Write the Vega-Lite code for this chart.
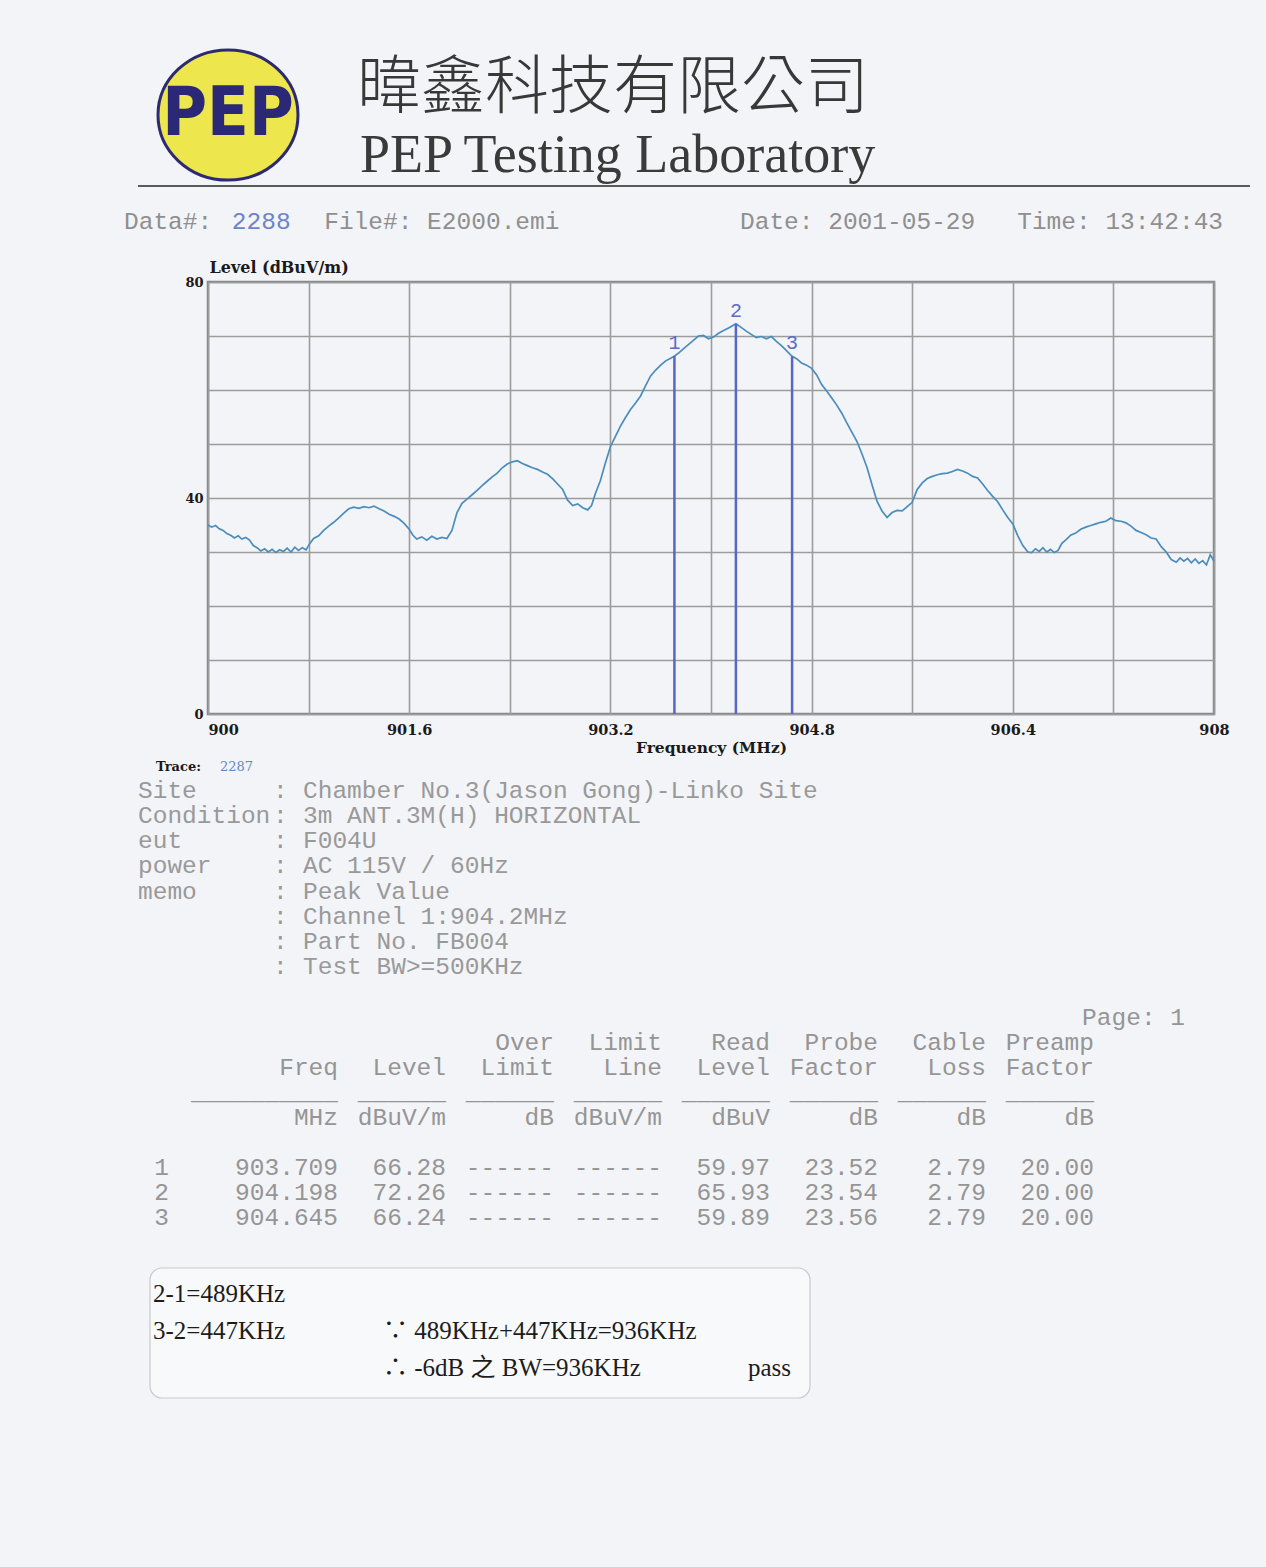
{
"$schema": "https://vega.github.io/schema/vega-lite/v6.json",
"width": 1006, "height": 432,
"autosize": {"type": "none"},
"padding": {"left": 208, "top": 282, "right": 52, "bottom": 853},
"background": "#f3f4f7",
"config": {"view": {"stroke": "#858585", "strokeWidth": 2.5}},
"datasets": {
 "trace": [
{"freq":900.00,"level":35.0},{"freq":900.03,"level":34.6},{"freq":900.06,"level":34.9},{"freq":900.09,"level":34.3},{"freq":900.12,"level":34.0},{"freq":900.15,"level":33.4},{"freq":900.18,"level":33.1},{"freq":900.21,"level":32.6},{"freq":900.24,"level":33.0},{"freq":900.27,"level":32.4},{"freq":900.30,"level":32.7},{"freq":900.33,"level":32.2},{"freq":900.36,"level":31.2},{"freq":900.39,"level":30.8},{"freq":900.42,"level":30.2},{"freq":900.45,"level":30.6},{"freq":900.48,"level":30.0},{"freq":900.51,"level":30.5},{"freq":900.54,"level":29.9},{"freq":900.57,"level":30.4},{"freq":900.60,"level":30.1},{"freq":900.63,"level":30.7},{"freq":900.66,"level":30.0},{"freq":900.69,"level":30.9},{"freq":900.72,"level":30.3},{"freq":900.75,"level":30.8},{"freq":900.78,"level":30.4},{"freq":900.81,"level":31.6},{"freq":900.84,"level":32.5},{"freq":900.88,"level":33.0},{"freq":900.92,"level":34.0},{"freq":900.96,"level":34.8},{"freq":901.00,"level":35.5},{"freq":901.04,"level":36.3},{"freq":901.08,"level":37.2},{"freq":901.12,"level":38.0},{"freq":901.16,"level":38.3},{"freq":901.20,"level":38.1},{"freq":901.24,"level":38.4},{"freq":901.28,"level":38.2},{"freq":901.32,"level":38.5},{"freq":901.36,"level":38.0},{"freq":901.40,"level":37.6},{"freq":901.44,"level":37.0},{"freq":901.48,"level":36.6},{"freq":901.52,"level":36.1},{"freq":901.56,"level":35.3},{"freq":901.60,"level":34.2},{"freq":901.63,"level":33.1},{"freq":901.66,"level":32.4},{"freq":901.70,"level":32.8},{"freq":901.74,"level":32.2},{"freq":901.78,"level":32.9},{"freq":901.82,"level":32.4},{"freq":901.86,"level":32.7},{"freq":901.90,"level":32.5},{"freq":901.94,"level":34.0},{"freq":901.98,"level":37.3},{"freq":902.02,"level":39.0},{"freq":902.06,"level":39.8},{"freq":902.10,"level":40.6},{"freq":902.14,"level":41.4},{"freq":902.18,"level":42.3},{"freq":902.22,"level":43.1},{"freq":902.26,"level":43.9},{"freq":902.30,"level":44.6},{"freq":902.34,"level":45.6},{"freq":902.38,"level":46.3},{"freq":902.42,"level":46.7},{"freq":902.46,"level":46.9},{"freq":902.50,"level":46.4},{"freq":902.54,"level":46.0},{"freq":902.58,"level":45.6},{"freq":902.62,"level":45.3},{"freq":902.66,"level":44.8},{"freq":902.70,"level":44.4},{"freq":902.74,"level":43.6},{"freq":902.78,"level":42.6},{"freq":902.82,"level":41.6},{"freq":902.86,"level":39.6},{"freq":902.90,"level":38.6},{"freq":902.94,"level":38.9},{"freq":902.98,"level":38.2},{"freq":903.02,"level":37.8},{"freq":903.05,"level":38.6},{"freq":903.08,"level":40.8},{"freq":903.12,"level":43.2},{"freq":903.16,"level":46.5},{"freq":903.20,"level":49.5},{"freq":903.24,"level":51.4},{"freq":903.28,"level":53.3},{"freq":903.32,"level":54.9},{"freq":903.36,"level":56.4},{"freq":903.40,"level":57.6},{"freq":903.44,"level":58.9},{"freq":903.48,"level":60.8},{"freq":903.52,"level":62.6},{"freq":903.56,"level":63.7},{"freq":903.60,"level":64.6},{"freq":903.64,"level":65.4},{"freq":903.68,"level":65.9},{"freq":903.709,"level":66.28},{"freq":903.74,"level":66.8},{"freq":903.78,"level":67.6},{"freq":903.82,"level":68.4},{"freq":903.86,"level":69.2},{"freq":903.90,"level":70.0},{"freq":903.94,"level":70.1},{"freq":903.98,"level":69.5},{"freq":904.02,"level":69.8},{"freq":904.06,"level":70.5},{"freq":904.10,"level":71.0},{"freq":904.14,"level":71.5},{"freq":904.198,"level":72.26},{"freq":904.24,"level":71.6},{"freq":904.28,"level":70.9},{"freq":904.32,"level":70.3},{"freq":904.36,"level":69.7},{"freq":904.40,"level":69.9},{"freq":904.44,"level":69.5},{"freq":904.48,"level":69.9},{"freq":904.52,"level":69.0},{"freq":904.56,"level":68.2},{"freq":904.60,"level":67.3},{"freq":904.645,"level":66.24},{"freq":904.68,"level":65.8},{"freq":904.72,"level":65.0},{"freq":904.76,"level":64.6},{"freq":904.80,"level":64.0},{"freq":904.84,"level":62.8},{"freq":904.88,"level":61.0},{"freq":904.92,"level":59.8},{"freq":904.96,"level":58.5},{"freq":905.00,"level":57.2},{"freq":905.04,"level":55.7},{"freq":905.08,"level":53.9},{"freq":905.12,"level":52.2},{"freq":905.16,"level":50.5},{"freq":905.20,"level":48.2},{"freq":905.24,"level":45.7},{"freq":905.28,"level":42.5},{"freq":905.32,"level":39.4},{"freq":905.36,"level":37.6},{"freq":905.40,"level":36.4},{"freq":905.44,"level":37.3},{"freq":905.48,"level":37.7},{"freq":905.52,"level":37.6},{"freq":905.56,"level":38.4},{"freq":905.60,"level":39.2},{"freq":905.64,"level":41.6},{"freq":905.68,"level":42.8},{"freq":905.72,"level":43.6},{"freq":905.76,"level":44.0},{"freq":905.80,"level":44.3},{"freq":905.84,"level":44.5},{"freq":905.88,"level":44.6},{"freq":905.92,"level":44.9},{"freq":905.96,"level":45.3},{"freq":906.00,"level":45.0},{"freq":906.04,"level":44.6},{"freq":906.08,"level":44.0},{"freq":906.12,"level":43.7},{"freq":906.16,"level":42.6},{"freq":906.20,"level":41.4},{"freq":906.24,"level":40.3},{"freq":906.28,"level":39.3},{"freq":906.32,"level":37.8},{"freq":906.36,"level":36.4},{"freq":906.40,"level":35.2},{"freq":906.44,"level":33.0},{"freq":906.48,"level":31.2},{"freq":906.52,"level":30.0},{"freq":906.55,"level":29.9},{"freq":906.58,"level":30.6},{"freq":906.61,"level":30.1},{"freq":906.64,"level":30.8},{"freq":906.67,"level":30.0},{"freq":906.70,"level":30.5},{"freq":906.73,"level":29.9},{"freq":906.76,"level":30.3},{"freq":906.79,"level":31.6},{"freq":906.82,"level":32.2},{"freq":906.86,"level":33.1},{"freq":906.90,"level":33.5},{"freq":906.94,"level":34.2},{"freq":906.98,"level":34.6},{"freq":907.02,"level":34.9},{"freq":907.06,"level":35.2},{"freq":907.10,"level":35.5},{"freq":907.14,"level":35.7},{"freq":907.18,"level":36.3},{"freq":907.22,"level":35.8},{"freq":907.26,"level":35.7},{"freq":907.30,"level":35.4},{"freq":907.34,"level":34.8},{"freq":907.38,"level":34.0},{"freq":907.42,"level":33.6},{"freq":907.46,"level":33.2},{"freq":907.50,"level":32.6},{"freq":907.54,"level":32.4},{"freq":907.58,"level":31.0},{"freq":907.62,"level":30.0},{"freq":907.66,"level":28.6},{"freq":907.70,"level":28.1},{"freq":907.73,"level":28.9},{"freq":907.76,"level":28.3},{"freq":907.79,"level":28.8},{"freq":907.82,"level":28.0},{"freq":907.85,"level":28.7},{"freq":907.88,"level":27.9},{"freq":907.91,"level":28.4},{"freq":907.94,"level":27.6},{"freq":907.97,"level":29.5},{"freq":908.00,"level":28.3}
 ],
 "markers": [
  {"no":"1","freq":903.709,"level":66.28,"read":59.97,"probe":23.52,"cable":2.79,"preamp":20.00},
  {"no":"2","freq":904.198,"level":72.26,"read":65.93,"probe":23.54,"cable":2.79,"preamp":20.00},
  {"no":"3","freq":904.645,"level":66.24,"read":59.89,"probe":23.56,"cable":2.79,"preamp":20.00}
 ],
 "memo": [
  {"row":1,"key":"Site","value":"Chamber No.3(Jason Gong)-Linko Site"},
  {"row":2,"key":"Condition","value":"3m ANT.3M(H) HORIZONTAL"},
  {"row":3,"key":"eut","value":"F004U"},
  {"row":4,"key":"power","value":"AC 115V / 60Hz"},
  {"row":5,"key":"memo","value":"Peak Value"},
  {"row":6,"key":"","value":"Channel 1:904.2MHz"},
  {"row":7,"key":"","value":"Part No. FB004"},
  {"row":8,"key":"","value":"Test BW>=500KHz"}
 ],
 "columns": [
  {"col":"freq","h1":"","h2":"Freq","unit":"MHz"},
  {"col":"level","h1":"","h2":"Level","unit":"dBuV/m"},
  {"col":"over","h1":"Over","h2":"Limit","unit":"dB"},
  {"col":"limit","h1":"Limit","h2":"Line","unit":"dBuV/m"},
  {"col":"read","h1":"Read","h2":"Level","unit":"dBuV"},
  {"col":"probe","h1":"Probe","h2":"Factor","unit":"dB"},
  {"col":"cable","h1":"Cable","h2":"Loss","unit":"dB"},
  {"col":"preamp","h1":"Preamp","h2":"Factor","unit":"dB"}
 ],
 "header": [
  {"col":0,"text":"Data#:","kind":"label"},
  {"col":7,"text":"2288","kind":"number"},
  {"col":13,"text":"File#: E2000.emi","kind":"label"},
  {"col":40,"text":"Date: 2001-05-29","kind":"label"},
  {"col":58,"text":"Time: 13:42:43","kind":"label"}
 ],
 "bandwidth": [
  {"line":"a","left":"2-1=489KHz","right":"","verdict":""},
  {"line":"b","left":"3-2=447KHz","right":"∵ 489KHz+447KHz=936KHz","verdict":""},
  {"line":"c","left":"","right":"∴ -6dB 之 BW=936KHz","verdict":"pass"}
 ]
},
"resolve": {"scale": {"x": "independent", "y": "independent", "color": "independent"}},
"layer": [
 {"data": {"name": "trace"},
  "layer": [
   {"mark": {"type": "line", "color": "#4a8dbd", "strokeWidth": 1.7},
    "encoding": {
     "x": {"field": "freq", "type": "quantitative", "scale": {"domain": [900, 908], "nice": false, "zero": false},
      "axis": {"values": [900, 900.8, 901.6, 902.4, 903.2, 904, 904.8, 905.6, 906.4, 907.2, 908], "grid": true, "gridColor": "#9c9c9c", "gridWidth": 1.6, "domain": false, "ticks": false,
       "labelExpr": "round(datum.value*10) % 16 == 8 ? format(datum.value, '.1~f') : ''", "labelOverlap": false, "labelFlush": false, "labelBound": false,
       "labelFont": "DejaVu Serif", "labelFontWeight": "bold", "labelFontSize": 14.5, "labelColor": "#1a1a1a", "labelPadding": 9,
       "labelAlign": {"condition": {"test": "datum.value < 900.5", "value": "left"}, "value": "center"},
       "title": "Frequency (MHz)", "titleFont": "DejaVu Serif", "titleFontWeight": "bold", "titleFontSize": 15.5, "titleColor": "#1a1a1a", "titlePadding": 4}},
     "y": {"field": "level", "type": "quantitative", "scale": {"domain": [0, 80], "nice": false},
      "axis": {"values": [0, 10, 20, 30, 40, 50, 60, 70, 80], "grid": true, "gridColor": "#9c9c9c", "gridWidth": 1.6, "domain": false, "ticks": false,
       "labelExpr": "datum.value % 40 == 0 ? datum.label : ''", "labelOverlap": false,
       "labelFont": "DejaVu Serif", "labelFontWeight": "bold", "labelFontSize": 13, "labelColor": "#1a1a1a", "labelPadding": 5,
       "title": "Level (dBuV/m)", "titleAngle": 0, "titleAlign": "left", "titleBaseline": "middle", "titleX": 1, "titleY": -15,
       "titleFont": "DejaVu Serif", "titleFontWeight": "bold", "titleFontSize": 16, "titleColor": "#1a1a1a"}}
    }},
   {"data": {"name": "markers"}, "mark": {"type": "rule", "color": "#5667c6", "strokeWidth": 2.5},
    "encoding": {"x": {"field": "freq", "type": "quantitative"}, "y": {"field": "level", "type": "quantitative"}, "y2": {"datum": 0}}},
   {"data": {"name": "markers"}, "mark": {"type": "text", "font": "Liberation Mono", "fontSize": 20, "color": "#5a6cc4", "dy": -13, "baseline": "middle"},
    "encoding": {"x": {"field": "freq", "type": "quantitative"}, "y": {"field": "level", "type": "quantitative"}, "text": {"field": "no"}}}
  ]},
 {"data": {"values": [{"logo": "PEP"}]},
  "encoding": {
   "x": {"datum": 0, "type": "quantitative", "scale": {"domain": [0, 1], "range": [20, 21]}, "axis": null},
   "y": {"datum": 0, "type": "quantitative", "scale": {"domain": [0, 1], "range": [-167, -166]}, "axis": null}},
  "layer": [
   {"mark": {"type": "point", "shape": "M -1 0 A 1 0.93 0 1 0 1 0 A 1 0.93 0 1 0 -1 0 Z", "size": 19600, "filled": true, "fill": "#ede64c", "stroke": "#2d2a72", "strokeWidth": 3, "opacity": 1}},
   {"mark": {"type": "text", "font": "DejaVu Sans Condensed", "fontWeight": "bold", "fontSize": 68, "color": "#2b2878", "align": "center", "baseline": "middle"},
    "encoding": {"text": {"field": "logo"}}}
  ]},
 {"data": {"values": [{}]},
  "mark": {"type": "text", "text": "暐鑫科技有限公司", "font": "Noto Sans CJK TC", "fontWeight": 300, "fontSize": 64, "color": "#383838", "align": "left", "baseline": "middle"},
  "encoding": {
   "x": {"datum": 0, "type": "quantitative", "scale": {"domain": [0, 1], "range": [149, 150]}, "axis": null},
   "y": {"datum": 0, "type": "quantitative", "scale": {"domain": [0, 1], "range": [-193, -192]}, "axis": null}}},
 {"data": {"values": [{}]},
  "mark": {"type": "text", "text": "PEP Testing Laboratory", "font": "Liberation Serif", "fontSize": 54, "color": "#3a3a3a", "align": "left", "baseline": "alphabetic"},
  "encoding": {
   "x": {"datum": 0, "type": "quantitative", "scale": {"domain": [0, 1], "range": [152, 153]}, "axis": null},
   "y": {"datum": 0, "type": "quantitative", "scale": {"domain": [0, 1], "range": [-110, -109]}, "axis": null}}},
 {"data": {"values": [{}]},
  "mark": {"type": "rule", "color": "#5a5a5a", "strokeWidth": 2},
  "encoding": {
   "x": {"datum": 0, "type": "quantitative", "scale": {"domain": [0, 1], "range": [-70, 1042]}, "axis": null},
   "x2": {"datum": 1},
   "y": {"datum": 0, "type": "quantitative", "scale": {"domain": [0, 1], "range": [-96, -95]}, "axis": null}}},
 {"data": {"name": "header"},
  "mark": {"type": "text", "font": "Liberation Mono", "fontSize": 24.5, "align": "left", "baseline": "middle"},
  "encoding": {
   "x": {"field": "col", "type": "quantitative", "scale": {"domain": [0, 72], "range": [-84, 1024.8]}, "axis": null},
   "y": {"datum": 0, "type": "quantitative", "scale": {"domain": [0, 1], "range": [-60, -59]}, "axis": null},
   "text": {"field": "text"},
   "color": {"field": "kind", "type": "nominal", "scale": {"domain": ["label", "number"], "range": ["#8f8f8f", "#6d84c9"]}, "legend": null}}},
 {"data": {"values": [{}]},
  "encoding": {
   "y": {"datum": 0, "type": "quantitative", "scale": {"domain": [0, 1], "range": [485, 486]}, "axis": null}},
  "layer": [
   {"mark": {"type": "text", "text": "Trace:", "font": "DejaVu Serif", "fontWeight": "bold", "fontSize": 13, "color": "#1a1a1a", "align": "left", "baseline": "middle"},
    "encoding": {"x": {"datum": 0, "type": "quantitative", "scale": {"domain": [0, 1], "range": [-52, 12]}, "axis": null}}},
   {"mark": {"type": "text", "text": "2287", "font": "DejaVu Serif", "fontSize": 13, "color": "#5f87cc", "align": "left", "baseline": "middle"},
    "encoding": {"x": {"datum": 1, "type": "quantitative", "scale": {"domain": [0, 1], "range": [-52, 12]}, "axis": null}}}
  ]},
 {"data": {"name": "memo"},
  "encoding": {
   "y": {"field": "row", "type": "ordinal", "scale": {"type": "point", "domain": [1, 2, 3, 4, 5, 6, 7, 8], "range": [509, 685], "padding": 0}, "axis": null}},
  "layer": [
   {"mark": {"type": "text", "font": "Liberation Mono", "fontSize": 24.5, "color": "#999999", "align": "left", "baseline": "middle"},
    "encoding": {"x": {"datum": 0, "type": "quantitative", "scale": {"domain": [0, 11], "range": [-70, 95]}, "axis": null}, "text": {"field": "key"}}},
   {"mark": {"type": "text", "text": ":", "font": "Liberation Mono", "fontSize": 24.5, "color": "#999999", "align": "left", "baseline": "middle"},
    "encoding": {"x": {"datum": 9, "type": "quantitative", "scale": {"domain": [0, 11], "range": [-70, 95]}, "axis": null}}},
   {"mark": {"type": "text", "font": "Liberation Mono", "fontSize": 24.5, "color": "#999999", "align": "left", "baseline": "middle"},
    "encoding": {"x": {"datum": 11, "type": "quantitative", "scale": {"domain": [0, 11], "range": [-70, 95]}, "axis": null}, "text": {"field": "value"}}}
  ]},
 {"layer": [
   {"data": {"name": "columns"}, "mark": {"type": "text", "font": "Liberation Mono", "fontSize": 24.5, "color": "#959595", "align": "right", "baseline": "middle"},
    "encoding": {
     "x": {"field": "col", "type": "nominal", "scale": {"type": "point", "domain": ["freq","level","over","limit","read","probe","cable","preamp"], "range": [130, 886], "padding": 0}, "axis": null},
     "y": {"datum": "h1", "type": "nominal", "scale": {"type": "point", "domain": ["page","h1","h2","ul","unit","gap","1","2","3"], "range": [736, 936], "padding": 0}, "axis": null},
     "text": {"field": "h1"}}},
   {"data": {"name": "columns"}, "mark": {"type": "text", "font": "Liberation Mono", "fontSize": 24.5, "color": "#959595", "align": "right", "baseline": "middle"},
    "encoding": {
     "x": {"field": "col", "type": "nominal", "axis": null},
     "y": {"datum": "h2", "type": "nominal", "axis": null},
     "text": {"field": "h2"}}},
   {"data": {"name": "columns"}, "transform": [{"filter": "datum.col != 'freq'"}],
    "mark": {"type": "text", "text": "______", "font": "Liberation Mono", "fontSize": 24.5, "color": "#959595", "align": "right", "baseline": "middle"},
    "encoding": {
     "x": {"field": "col", "type": "nominal", "axis": null},
     "y": {"datum": "ul", "type": "nominal", "axis": null}}},
   {"data": {"values": [{}]}, "mark": {"type": "text", "text": "__________", "font": "Liberation Mono", "fontSize": 24.5, "color": "#959595", "align": "right", "baseline": "middle"},
    "encoding": {
     "x": {"datum": "freq", "type": "nominal", "axis": null},
     "y": {"datum": "ul", "type": "nominal", "axis": null}}},
   {"data": {"name": "columns"}, "mark": {"type": "text", "font": "Liberation Mono", "fontSize": 24.5, "color": "#959595", "align": "right", "baseline": "middle"},
    "encoding": {
     "x": {"field": "col", "type": "nominal", "axis": null},
     "y": {"datum": "unit", "type": "nominal", "axis": null},
     "text": {"field": "unit"}}},
   {"data": {"values": [{}]}, "mark": {"type": "text", "text": "Page: 1", "font": "Liberation Mono", "fontSize": 24.5, "color": "#959595", "align": "right", "baseline": "middle", "dx": 91},
    "encoding": {
     "x": {"datum": "preamp", "type": "nominal", "axis": null},
     "y": {"datum": "page", "type": "nominal", "axis": null}}},
   {"data": {"name": "markers"}, "mark": {"type": "text", "font": "Liberation Mono", "fontSize": 24.5, "color": "#959595", "align": "right", "baseline": "middle"},
    "encoding": {
     "x": {"datum": "freq", "type": "nominal", "axis": null},
     "y": {"field": "no", "type": "nominal", "axis": null},
     "text": {"field": "freq", "type": "quantitative", "format": ".3f"}}},
   {"data": {"name": "markers"}, "mark": {"type": "text", "font": "Liberation Mono", "fontSize": 24.5, "color": "#959595", "align": "right", "baseline": "middle", "dx": -169},
    "encoding": {
     "x": {"datum": "freq", "type": "nominal", "axis": null},
     "y": {"field": "no", "type": "nominal", "axis": null},
     "text": {"field": "no"}}},
   {"data": {"name": "markers"}, "transform": [{"fold": ["level", "read", "probe", "cable", "preamp"], "as": ["col", "val"]}],
    "mark": {"type": "text", "font": "Liberation Mono", "fontSize": 24.5, "color": "#959595", "align": "right", "baseline": "middle"},
    "encoding": {
     "x": {"field": "col", "type": "nominal", "axis": null},
     "y": {"field": "no", "type": "nominal", "axis": null},
     "text": {"field": "val", "type": "quantitative", "format": ".2f"}}},
   {"data": {"name": "markers"}, "mark": {"type": "text", "text": "------", "font": "Liberation Mono", "fontSize": 24.5, "color": "#959595", "align": "right", "baseline": "middle"},
    "encoding": {
     "x": {"datum": "over", "type": "nominal", "axis": null},
     "y": {"field": "no", "type": "nominal", "axis": null}}},
   {"data": {"name": "markers"}, "mark": {"type": "text", "text": "------", "font": "Liberation Mono", "fontSize": 24.5, "color": "#959595", "align": "right", "baseline": "middle"},
    "encoding": {
     "x": {"datum": "limit", "type": "nominal", "axis": null},
     "y": {"field": "no", "type": "nominal", "axis": null}}}
  ]},
 {"data": {"values": [{}]},
  "mark": {"type": "rect", "fill": "#f8f9fb", "stroke": "#c9c9c9", "strokeWidth": 1.2, "cornerRadius": 12},
  "encoding": {
   "x": {"datum": 0, "type": "quantitative", "scale": {"domain": [0, 1], "range": [-58, 602]}, "axis": null},
   "x2": {"datum": 1},
   "y": {"datum": 0, "type": "quantitative", "scale": {"domain": [0, 1], "range": [986, 1116]}, "axis": null},
   "y2": {"datum": 1}}},
 {"data": {"name": "bandwidth"},
  "encoding": {
   "y": {"field": "line", "type": "nominal", "scale": {"type": "point", "domain": ["a", "b", "c"], "range": [1012, 1086], "padding": 0}, "axis": null}},
  "layer": [
   {"mark": {"type": "text", "font": "Liberation Serif, Noto Sans CJK TC", "fontSize": 25, "color": "#1c1c1c", "align": "left", "baseline": "middle"},
    "encoding": {"x": {"datum": "left", "type": "nominal", "scale": {"type": "point", "domain": ["left", "right"], "range": [-55, 175], "padding": 0}, "axis": null}, "text": {"field": "left"}}},
   {"mark": {"type": "text", "font": "Liberation Serif, Noto Sans CJK TC", "fontSize": 25, "color": "#1c1c1c", "align": "left", "baseline": "middle"},
    "encoding": {"x": {"datum": "right", "type": "nominal", "axis": null}, "text": {"field": "right"}}},
   {"mark": {"type": "text", "font": "Liberation Serif, Noto Sans CJK TC", "fontSize": 25, "color": "#1c1c1c", "align": "left", "baseline": "middle", "dx": 365},
    "encoding": {"x": {"datum": "right", "type": "nominal", "axis": null}, "text": {"field": "verdict"}}}
  ]}
]
}
